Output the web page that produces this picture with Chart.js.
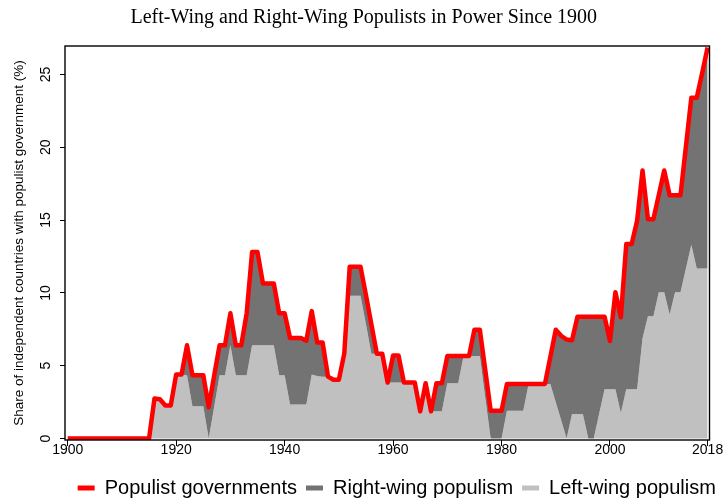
<!DOCTYPE html>
<html>
<head>
<meta charset="utf-8">
<script src="https://cdn.jsdelivr.net/npm/chart.js@4/dist/chart.umd.min.js"></script>
<style>
html,body{margin:0;padding:0;background:#fff;}
#wrap{width:727px;height:500px;}
</style>
</head>
<body>
<div id="wrap"><canvas id="c" width="727" height="500"></canvas></div>
<script>
const years = [
 1900,1901,1902,1903,1904,1905,1906,1907,1908,1909,
 1910,1911,1912,1913,1914,1915,1916,1917,1918,1919,
 1920,1921,1922,1923,1924,1925,1926,1927,1928,1929,
 1930,1931,1932,1933,1934,1935,1936,1937,1938,1939,
 1940,1941,1942,1943,1944,1945,1946,1947,1948,1949,
 1950,1951,1952,1953,1954,1955,1956,1957,1958,1959,
 1960,1961,1962,1963,1964,1965,1966,1967,1968,1969,
 1970,1971,1972,1973,1974,1975,1976,1977,1978,1979,
 1980,1981,1982,1983,1984,1985,1986,1987,1988,1989,
 1990,1991,1992,1993,1994,1995,1996,1997,1998,1999,
 2000,2001,2002,2003,2004,2005,2006,2007,2008,2009,
 2010,2011,2012,2013,2014,2015,2016,2017,2018
];
// Share of countries with a populist government (total, %)
const populist = [
 0,0,0,0,0,0,0,0,0,0,
 0,0,0,0,0,0,2.75,2.7,2.27,2.27,
 4.4,4.4,6.4,4.35,4.35,4.35,2.15,4.3,6.4,6.4,
 8.6,6.4,6.4,8.6,12.8,12.8,10.65,10.65,10.65,8.6,
 8.6,6.9,6.9,6.9,6.72,8.75,6.6,6.6,4.25,4.04,
 4.04,5.83,11.79,11.79,11.79,9.85,7.84,5.83,5.83,3.85,
 5.7,5.7,3.85,3.85,3.85,1.87,3.8,1.87,3.8,3.8,
 5.66,5.66,5.66,5.66,5.66,7.47,7.47,4.7,1.9,1.9,
 1.9,3.75,3.75,3.75,3.75,3.75,3.75,3.75,3.75,5.6,
 7.47,7.05,6.8,6.75,8.37,8.37,8.37,8.37,8.37,8.37,
 6.7,10.04,8.33,13.35,13.35,14.95,18.4,15.05,15.05,16.72,
 18.4,16.7,16.7,16.7,20.05,23.4,23.4,25.1,26.85
];
// Left-wing populist share (%); right-wing share is the band between this and the total
const leftWing = [
 0,0,0,0,0,0,0,0,0,0,
 0,0,0,0,0,0,2.75,2.7,2.27,2.27,
 4.4,4.4,4.35,2.22,2.22,2.22,0,2.15,4.35,4.35,
 6.4,4.35,4.35,4.35,6.4,6.4,6.4,6.4,6.4,4.35,
 4.35,2.33,2.33,2.33,2.33,4.39,4.3,4.25,4.25,4.04,
 4.04,5.83,9.8,9.8,9.8,7.84,5.83,5.83,5.83,3.85,
 3.85,3.85,3.85,3.85,3.85,1.87,3.8,1.87,1.87,1.87,
 3.8,3.8,3.8,5.66,5.66,5.66,5.66,2.8,0,0,
 0,1.9,1.9,1.9,1.9,3.75,3.75,3.75,3.75,3.75,
 2.5,1.25,0,1.68,1.68,1.68,0,0,1.7,3.38,
 3.38,3.38,1.75,3.38,3.38,3.38,6.89,8.4,8.4,10.04,
 10.04,8.52,10.04,10.04,11.67,13.3,11.67,11.67,11.67
];
const xTickValues = [1900,1920,1940,1960,1980,2000,2018];
const yTickValues = [0,5,10,15,20,25];
const seriesNames = ['Populist governments','Right-wing populism','Left-wing populism'];
const seriesColors = ['#ff0000','#737373','#c0c0c0'];

const toXY = arr => years.map((yr,i)=>({x:yr, y:arr[i]}));

const framePlugin = {
  id:'frame',
  afterLayout(chart){
    // nudge legend and title to match reference placement
    const lg = chart.legend;
    if (lg) { lg.left += 42; lg.right += 42; lg.top -= 8; lg.bottom -= 8; }
    const tb = chart.titleBlock;
    if (tb) { tb.left += 9; tb.right += 9; }
  },
  afterDatasetsDraw(chart){
    const a = chart.chartArea, c = chart.ctx;
    c.save();
    c.strokeStyle = '#000';
    c.lineWidth = 1.4;
    c.strokeRect(a.left, a.top, a.right - a.left, a.bottom - a.top);
    c.restore();
  }
};

new Chart(document.getElementById('c'), {
  type:'line',
  data:{
    datasets:[
      {label:seriesNames[0], data:toXY(populist), borderColor:seriesColors[0], backgroundColor:seriesColors[0],
       borderWidth:4.5, pointRadius:0, fill:false, tension:0, borderJoinStyle:'round', borderCapStyle:'butt'},
      {label:seriesNames[1], data:toXY(populist), borderColor:'rgba(0,0,0,0)', backgroundColor:seriesColors[1],
       borderWidth:0, pointRadius:0, fill:'+1', tension:0},
      {label:seriesNames[2], data:toXY(leftWing), borderColor:'rgba(0,0,0,0)', backgroundColor:seriesColors[2],
       borderWidth:0, pointRadius:0, fill:'origin', tension:0}
    ]
  },
  options:{
    responsive:false, animation:false, devicePixelRatio:1,
    layout:{padding:{left:0, right:17.5, top:0, bottom:-16}},
    plugins:{
      title:{display:true, text:'Left-Wing and Right-Wing Populists in Power Since 1900',
        color:'#000', font:{family:'Liberation Serif', size:20, weight:'normal'},
        padding:{top:6, bottom:16}},
      legend:{display:true, position:'bottom', align:'center',
        labels:{color:'#000', font:{family:'Liberation Sans', size:20}, boxWidth:17, boxHeight:5, padding:9,
          generateLabels(chart){
            return chart.data.datasets.map((d,i)=>({text:d.label, fillStyle:seriesColors[i], strokeStyle:seriesColors[i], lineWidth:0, hidden:false, datasetIndex:i}));
          }}},
      tooltip:{enabled:false}
    },
    scales:{
      x:{type:'linear', min:1899.5, max:2018.35,
        afterBuildTicks(s){ s.ticks = xTickValues.map(v=>({value:v})); },
        afterFit(s){ s.height = 37; },
        ticks:{color:'#000', font:{family:'Liberation Sans', size:14}, maxRotation:0, autoSkip:false, padding:-4,
          callback:v=>String(v)},
        grid:{drawOnChartArea:false, drawTicks:true, tickLength:6, color:'#000', lineWidth:1},
        border:{display:false}
      },
      y:{type:'linear', min:-0.1, max:26.95,
        afterBuildTicks(s){ s.ticks = yTickValues.map(v=>({value:v})); },
        afterFit(s){ s.width = 65; },
        ticks:{color:'#000', font:{family:'Liberation Sans', size:14}, minRotation:90, maxRotation:90, crossAlign:'center', padding:6,
          callback:v=>String(v)},
        grid:{drawOnChartArea:false, drawTicks:true, tickLength:5, color:'#000', lineWidth:1},
        border:{display:false},
        title:{display:true, text:'Share of independent countries with populist government (%)', color:'#000',
          font:{family:'Liberation Sans', size:13.5}, padding:{top:11, bottom:0}}
      }
    }
  },
  plugins:[framePlugin]
});
</script>
</body>
</html>
